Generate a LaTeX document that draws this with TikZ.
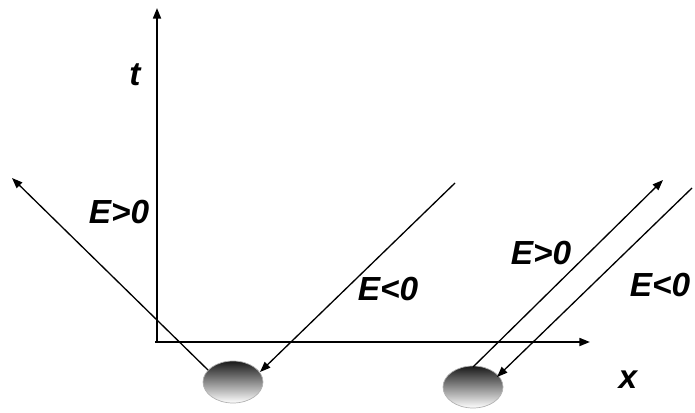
\documentclass[tikz,border=0pt]{standalone}
\usepackage{fontspec}
\setmainfont{Liberation Sans}
\usetikzlibrary{arrows.meta,shapes.geometric}

\tikzset{
    lbl/.style={font=\fontsize{19}{21}\selectfont\bfseries\itshape, inner sep=0pt},
    blob/.style={ellipse, minimum width=1.2cm, minimum height=0.84cm, inner sep=0pt,
        draw=gray!60, thin, shading=axis, top color=black!90, bottom color=white},
    ray/.style={->, line width=0.75pt},
}

\begin{document}
\begin{tikzpicture}[x=0.02cm, y=-0.02cm, >={Triangle[length=6pt,width=4.5pt]}]
        \useasboundingbox (0,0) rectangle (695,412);

        % axes
        \coordinate (O) at (155,342);
        \coordinate (tEnd) at (157,8);
        \coordinate (xEnd) at (590,342);
        \draw[->, line width=1.1pt] (157,342) -- (tEnd);
        \draw[->, line width=1.1pt] (O) -- (xEnd);
        \node[lbl] (tLab) at (135,75) {t};
        \node[lbl] (xLab) at (628,380) {x};

        % the two blobs
        \node[blob] (blobL) at (233,382) {};
        \node[blob] (blobR) at (473,387) {};

        % rays from the left blob
        \coordinate (aL) at (208,370);
        \coordinate (bL) at (12,178);
        \coordinate (cL) at (455,183);
        \coordinate (dL) at (260,372);
        \draw[ray] (aL) -- (bL);
        \draw[ray] (cL) -- (dL);
        \node[lbl] (ePosL) at (119,212) {E>0};
        \node[lbl] (eNegL) at (388,289) {E<0};

        % rays from the right blob
        \coordinate (aR) at (473,367);
        \coordinate (bR) at (663,180);
        \coordinate (cR) at (692,188);
        \coordinate (dR) at (497,377);
        \draw[ray] (aR) -- (bR);
        \draw[ray] (cR) -- (dR);
        \node[lbl] (ePosR) at (541,253) {E>0};
        \node[lbl] (eNegR) at (660,285) {E<0};
    \end{tikzpicture}
\end{document}
